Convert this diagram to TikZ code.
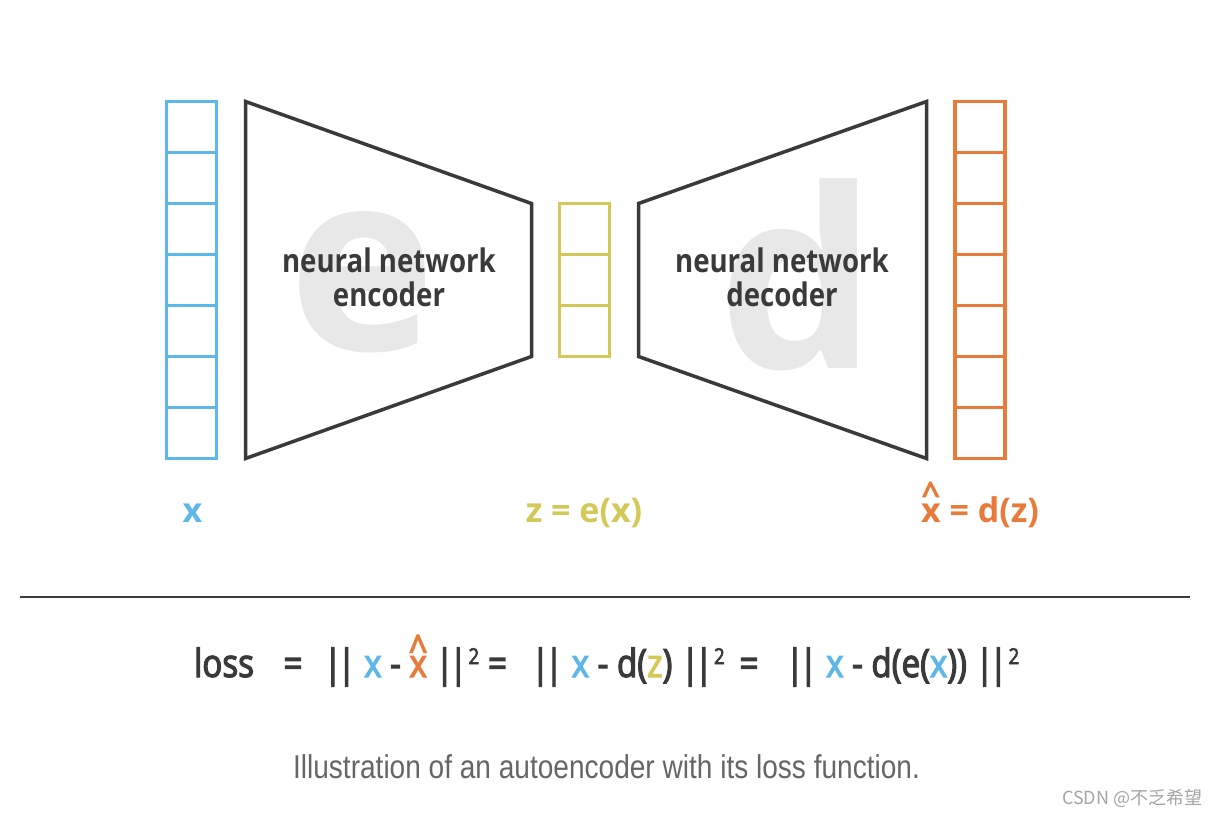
\documentclass[tikz,border=0pt]{standalone}
\usepackage{fontspec}
\setmainfont{Open Sans}
\newfontfamily\netfont[FakeStretch=0.85]{Open Sans}
\newfontfamily\lossfont[FakeStretch=0.85,FakeBold=3]{Open Sans}
\newfontfamily\capfont[FakeStretch=0.85]{Liberation Sans}
\newfontfamily\cjkfont{Noto Sans CJK SC}
\usetikzlibrary{positioning}
\definecolor{inblue}{RGB}{93,183,232}
\definecolor{codeyellow}{RGB}{212,200,88}
\definecolor{outorange}{RGB}{232,122,58}
\definecolor{ink}{RGB}{58,58,58}
\definecolor{ghostgray}{RGB}{232,232,232}
\definecolor{capgray}{RGB}{102,102,102}
\definecolor{markgray}{RGB}{165,165,165}
\newcommand\cellheight{51pt}
\newcommand\hatx[1]{\ooalign{x\cr\hidewidth\raisebox{#1}{\textasciicircum}\hidewidth\cr}}
\newcommand\bars{|\kern-0.12em|}
\newcommand\sqr{\kern0.03em\raisebox{0.33em}{\fontsize{22}{22}\selectfont 2}}

\begin{document}
\begin{tikzpicture}[
    x=1pt, y=-1pt,
    cell/.style = {
        rectangle,
        line width=3.2pt,
        minimum width=50pt,
        minimum height=\cellheight,
        inner sep=0pt,
        outer sep=0pt
      },
    net/.style = {
        draw=ink,
        line width=3.5pt,
        line join=miter
      },
    ghost/.style = {
        text=ghostgray,
        anchor=base,
        inner sep=0pt,
        font=\bfseries\fontsize{250}{250}\selectfont
      },
    netlabel/.style = {
        text=ink,
        align=center,
        inner sep=0pt,
        font=\netfont\bfseries\fontsize{32.5}{34}\selectfont
      },
    varlabel/.style = {
        anchor=base,
        inner sep=0pt,
        font=\bfseries\fontsize{34}{34}\selectfont
      },
    lossterm/.style = {
        anchor=base,
        inner sep=0pt,
        text=ink,
        font=\lossfont\fontsize{39}{39}\selectfont
      },
    ]
    \fill [white] (0,0) rectangle (1212,814);
    \useasboundingbox (0,0) rectangle (1212,814);

    \node (ghost e) [ghost] at (362,350) {e};
    \node (ghost d) [ghost] at (798,368) {d};

    \node (x1) [cell, draw=inblue] at (191.5,127) {};
    \foreach \i [remember=\i as \last (initially 1)] in {2,...,7}
      \node (x\i) [cell, draw=inblue, below=0pt of x\last] {};
    \node (z1) [cell, draw=codeyellow] at (584.5,229) {};
    \foreach \i [remember=\i as \last (initially 1)] in {2,3}
      \node (z\i) [cell, draw=codeyellow, below=0pt of z\last] {};
    \node (y1) [cell, draw=outorange] at (980,127) {};
    \foreach \i [remember=\i as \last (initially 1)] in {2,...,7}
      \node (y\i) [cell, draw=outorange, below=0pt of y\last] {};

    \draw [net] (245.5,101.5) -- (531.5,203.5) -- (531.5,356.5) -- (245.5,458.5) -- cycle;
    \draw [net] (638.5,203.5) -- (926.5,101.5) -- (926.5,458.5) -- (638.5,356.5) -- cycle;

    \node (encoder) [netlabel] at (389,277) {neural network\\encoder};
    \node (decoder) [netlabel] at (782,277) {neural network\\decoder};

    \node (x label) [varlabel, text=inblue] at (192.5,522) {x};
    \node (z label) [varlabel, text=codeyellow] at (584,522) {z = e(x)};
    \node (y label) [varlabel, text=outorange] at (980,522) {\hatx{0.45em} = d(z)};

    \draw [ink, line width=1.5pt] (20,597) -- (1190,597);

    \node (loss) [lossterm] at (224,677) {loss};
    \node (eq1) [lossterm] at (293,677) {=};
    \node (term1) [lossterm] at (401.5,677) {\bars\ {\color{inblue}x} - {\color{outorange}\hatx{0.36em}} \bars\sqr};
    \node (eq2) [lossterm] at (497.5,677) {=};
    \node (term2) [lossterm] at (628,677) {\bars\ {\color{inblue}x} - d({\color{codeyellow}z}) \bars\sqr};
    \node (eq3) [lossterm] at (749,677) {=};
    \node (term3) [lossterm] at (902.5,677) {\bars\ {\color{inblue}x} - d(e({\color{inblue}x})) \bars\sqr};

    \node (caption) [anchor=base, inner sep=0pt, text=capgray, font=\capfont\fontsize{33}{33}\selectfont] at (606.5,778) {Illustration of an autoencoder with its loss function.};
    \node (mark) [anchor=base west, inner sep=0pt, text=markgray, font=\cjkfont\fontsize{18}{18}\selectfont] at (1062,804) {CSDN @不乏希望};
  \end{tikzpicture}
\end{document}
